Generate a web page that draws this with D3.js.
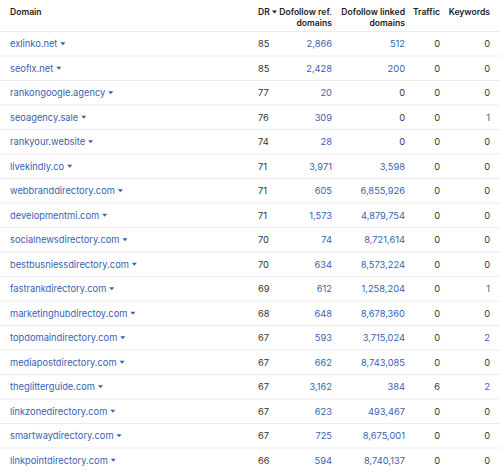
<!DOCTYPE html>
<html><head><meta charset="utf-8">
<script src="https://cdn.jsdelivr.net/npm/d3@7"></script>
<style>body{margin:0;background:#fff;font-family:Inter,"Noto Sans",sans-serif}</style>
</head><body><svg id="c" width="500" height="474"></svg>
<script>
var domains = ["exlinko.net","seoflx.net","rankongoogle.agency","seoagency.sale","rankyour.website","livekindly.co","webbranddirectory.com","developmentmi.com","socialnewsdirectory.com","bestbusniessdirectory.com","fastrankdirectory.com","marketinghubdirectoy.com","topdomaindirectory.com","mediapostdirectory.com","theglitterguide.com","linkzonedirectory.com","smartwaydirectory.com","linkpointdirectory.com"];
var dr = [85,85,77,76,74,71,71,71,70,70,69,68,67,67,67,67,67,66];
var refDomains = [2866,2428,20,309,28,3971,605,1573,74,634,612,648,593,662,3162,623,725,594];
var linkedDomains = [512,200,0,0,0,3598,6855926,4879754,8721614,8573224,1258204,8678360,3715024,8743085,384,493467,8675001,8740137];
var traffic = [0,0,0,0,0,0,0,0,0,0,0,0,0,0,6,0,0,0];
var keywords = [0,0,0,1,0,0,0,0,0,0,1,0,2,0,2,0,0,0];

var blue = "#3a5fae", dark = "#333";
var svg = d3.select("#c");
var fmt = d3.format(",");
var y = d3.scaleBand().domain(d3.range(domains.length)).range([31, 472]);

// header
var hdr = svg.append("g").attr("font-size", 8.6).attr("font-weight", 600).attr("fill", "#222");
hdr.append("text").attr("x", 10).attr("y", 15).text("Domain");
hdr.append("text").attr("x", 258).attr("y", 15).text("DR");
hdr.append("path").attr("d", "M272,10.5h5l-2.5,3z").attr("fill", "#222");
[[332,["Dofollow ref.","domains"]],[405,["Dofollow linked","domains"]],[440,["Traffic"]],[490,["Keywords"]]].forEach(function(h){
	h[1].forEach(function(t,i){
		hdr.append("text").attr("x", h[0]).attr("y", 15 + i*11).attr("text-anchor","end").text(t);
	});
});

var rows = svg.selectAll("g.row").data(domains).enter().append("g")
	.attr("class","row").attr("transform", function(d,i){return "translate(0,"+y(i)+")";})
	.attr("font-size", 9.3);
rows.append("line").attr("x1",0).attr("x2",500).attr("y1",0.5).attr("y2",0.5).attr("stroke","#ececec");
var cy = y.bandwidth()/2 + 4;
rows.append("text").attr("x",10).attr("y",cy).attr("fill",blue).text(function(d){return d;})
	.each(function(){
		var w = this.getComputedTextLength();
		d3.select(this.parentNode).append("path")
			.attr("d","M"+(10+w+3)+","+(cy-5)+"h5l-2.5,3z").attr("fill",blue);
	});
rows.append("text").attr("x",258).attr("y",cy).attr("fill",dark).text(function(d,i){return dr[i];});
rows.append("text").attr("x",332).attr("y",cy).attr("text-anchor","end").attr("fill",blue).text(function(d,i){return fmt(refDomains[i]);});
rows.append("text").attr("x",405).attr("y",cy).attr("text-anchor","end").attr("fill",function(d,i){return linkedDomains[i]?blue:dark;}).text(function(d,i){return fmt(linkedDomains[i]);});
rows.append("text").attr("x",440).attr("y",cy).attr("text-anchor","end").attr("fill",dark).text(function(d,i){return traffic[i];});
rows.append("text").attr("x",490).attr("y",cy).attr("text-anchor","end").attr("fill",function(d,i){return keywords[i]?blue:dark;}).text(function(d,i){return keywords[i];});
</script></body></html>
